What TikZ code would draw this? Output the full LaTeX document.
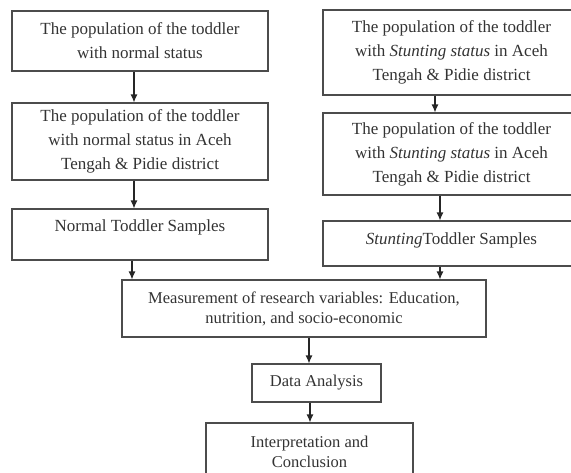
\documentclass[tikz,border=0pt]{standalone}
\usepackage{fontspec}
\setmainfont{Liberation Serif}
\usetikzlibrary{arrows.meta,positioning}

\begin{document}
\begin{tikzpicture}[x=1pt,y=-1pt,
  box/.style={rectangle,draw=black!70,line width=1.1pt,align=center,text=black!80,inner sep=0pt,font=\fontsize{17}{24}\selectfont},
  lowbox/.style={box,font=\fontsize{16.5}{20}\selectfont},
  flow/.style={-{Latex[length=8pt,width=7pt]},line width=1.2pt,black!85}]
\useasboundingbox (0,0) rectangle (571,472);

% Normal toddlers
\node[box,minimum width=256,minimum height=60] (norm1) at (140,41) {The population of the toddler\\with normal status};
\node[box,minimum width=256,minimum height=77] (norm2) at (140,141.5) {The population of the toddler\\with normal status in Aceh\\Tengah \& Pidie district};
\node[box,minimum width=256,minimum height=51,text depth=18pt] (norm3) at (140,234.5) {Normal Toddler Samples};

% Stunting toddlers
\node[box,minimum width=257,minimum height=85] (stunt1) at (451.5,52.5) {The population of the toddler\\with \textit{Stunting status} in Aceh\\Tengah \& Pidie district};
\node[box,minimum width=257,minimum height=82] (stunt2) at (451.5,154) {The population of the toddler\\with \textit{Stunting status} in Aceh\\Tengah \& Pidie district};
\node[box,minimum width=257,minimum height=45,text depth=10pt] (stunt3) at (451.5,243.5) {\textit{Stunting}Toddler Samples};

% Common steps
\node[lowbox,minimum width=364,minimum height=57] (measure) at (304,308.5) {Measurement of research variables: Education,\\nutrition, and socio-economic};
\node[lowbox,minimum width=129,minimum height=38] (analysis) at (316.5,383) {Data Analysis};
\node[lowbox,minimum width=207,minimum height=57] (interp) at (309.5,451.5) {Interpretation and\\Conclusion};

\draw[flow] ([xshift=-6]norm1.south) -- ([xshift=-6]norm2.north);
\draw[flow] ([xshift=-6]norm2.south) -- ([xshift=-6]norm3.north);
\draw[flow] ([xshift=-8]norm3.south) -- ([xshift=-172]measure.north);
\draw[flow] ([xshift=-16.5]stunt1.south) -- ([xshift=-16.5]stunt2.north);
\draw[flow] ([xshift=-11.5]stunt2.south) -- ([xshift=-11.5]stunt3.north);
\draw[flow] ([xshift=-11.5]stunt3.south) -- ([xshift=136]measure.north);
\draw[flow] ([xshift=5]measure.south) -- ([xshift=-7.5]analysis.north);
\draw[flow] ([xshift=-6.5]analysis.south) -- ([xshift=0.5]interp.north);
\end{tikzpicture}
\end{document}
